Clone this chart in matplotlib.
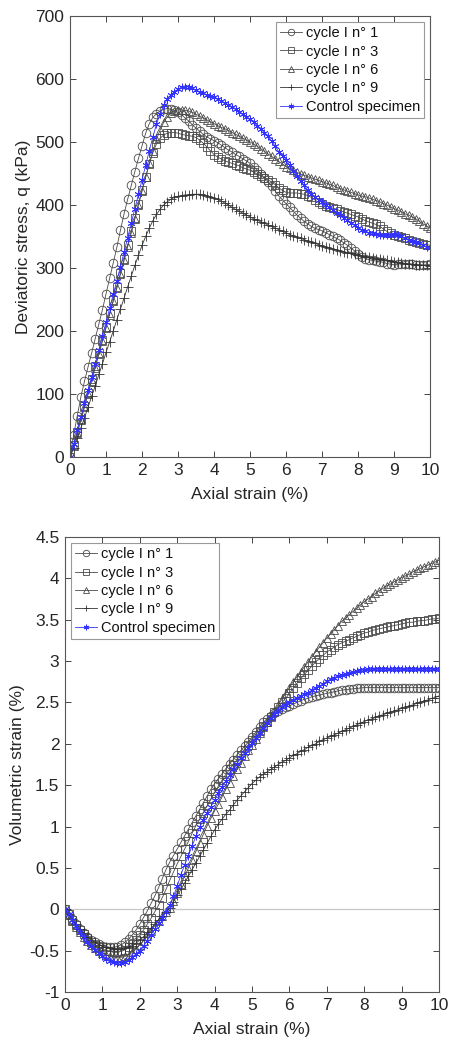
import numpy as np
import matplotlib
matplotlib.use("Agg")
import matplotlib.pyplot as plt
from matplotlib.ticker import FuncFormatter

plt.rcParams['font.family'] = ['Liberation Sans', 'DejaVu Sans']
plt.rcParams['axes.unicode_minus'] = False

# axial strain grid (%)
strain = np.linspace(0, 10, 101)
labels = ['cycle I n° 1', 'cycle I n° 3', 'cycle I n° 6', 'cycle I n° 9', 'Control specimen']

# deviatoric stress q (kPa)
q_c1 = [0, 35, 65, 95, 120, 143, 165, 188, 211, 234,
        259, 284, 308, 333, 360, 386, 409, 431, 453, 474,
        494, 514, 529, 539, 545, 549, 552, 553, 552, 550,
        547, 543, 538, 533, 527, 522, 517, 512, 508, 505,
        502, 499, 495, 491, 487, 484, 480, 477, 473, 470,
        466, 461, 455, 449, 443, 437, 430, 422, 414, 408,
        402, 396, 390, 384, 379, 374, 370, 366, 363, 361,
        359, 356, 353, 350, 347, 344, 340, 336, 332, 327,
        322, 318, 315, 313, 312, 311, 310, 309, 307, 306,
        305, 306, 307, 307, 306, 306, 305, 305, 305, 305, 306]
q_c3 = [0, 19, 39, 60, 81, 102, 123, 144, 165, 186,
        207, 228, 249, 270, 292, 314, 336, 358, 380, 402,
        424, 445, 465, 483, 497, 506, 511, 514, 515, 515,
        514, 512, 511, 510, 509, 507, 503, 498, 492, 486,
        480, 476, 473, 470, 468, 466, 464, 462, 459, 457,
        455, 452, 449, 446, 443, 440, 436, 432, 427, 423,
        420, 419, 419, 419, 418, 417, 415, 412, 408, 404,
        401, 399, 397, 395, 393, 391, 389, 387, 385, 383,
        381, 378, 375, 373, 371, 369, 366, 362, 358, 355,
        353, 351, 349, 347, 345, 343, 341, 339, 338, 337, 336]
q_c6 = [0, 18, 38, 58, 79, 100, 121, 142, 163, 184,
        205, 226, 247, 268, 290, 312, 334, 356, 378, 400,
        422, 444, 466, 486, 504, 519, 531, 540, 546, 549,
        551, 551, 550, 549, 547, 544, 541, 538, 535, 532,
        529, 526, 523, 521, 518, 515, 512, 509, 506, 503,
        500, 497, 493, 489, 485, 481, 477, 473, 469, 465,
        461, 458, 455, 452, 449, 447, 445, 443, 441, 439,
        437, 435, 433, 431, 428, 426, 424, 422, 420, 418,
        416, 414, 413, 411, 409, 407, 405, 402, 400, 397,
        394, 392, 389, 386, 384, 381, 378, 374, 370, 367, 363]
q_c9 = [0, 14, 30, 46, 62, 79, 96, 113, 131, 148,
        166, 183, 200, 218, 235, 252, 270, 287, 304, 320,
        336, 350, 363, 375, 385, 393, 400, 405, 409, 412,
        414, 415, 416, 416, 417, 417, 417, 416, 415, 413,
        411, 409, 406, 403, 400, 396, 393, 390, 387, 384,
        381, 378, 376, 373, 371, 368, 366, 363, 361, 358,
        356, 353, 351, 349, 347, 345, 343, 341, 339, 337,
        335, 333, 332, 330, 329, 327, 326, 324, 323, 322,
        320, 319, 318, 317, 316, 315, 314, 313, 312, 311,
        310, 309, 308, 307, 307, 306, 305, 305, 304, 304, 303]
q_ctrl = [0, 20, 42, 63, 85, 106, 127, 148, 170, 192,
          214, 236, 258, 280, 302, 325, 348, 371, 394, 417,
          440, 463, 486, 508, 528, 545, 558, 568, 575, 580,
          584, 587, 588, 587, 585, 582, 579, 577, 575, 573,
          571, 568, 565, 562, 559, 556, 552, 548, 544, 540,
          536, 531, 526, 521, 515, 509, 501, 493, 484, 478,
          472, 463, 454, 446, 438, 431, 424, 418, 413, 408,
          404, 400, 396, 392, 388, 384, 380, 376, 372, 368,
          364, 361, 358, 356, 355, 354, 353, 352, 352, 353,
          354, 352, 350, 347, 345, 343, 341, 339, 336, 333, 331]

# volumetric strain (%)
ev_c1 = [0, -0.06, -0.12, -0.18, -0.24, -0.29, -0.33, -0.37, -0.40, -0.42,
         -0.44, -0.45, -0.46, -0.46, -0.45, -0.43, -0.40, -0.36, -0.31, -0.25,
         -0.18, -0.10, -0.02, 0.07, 0.16, 0.26, 0.37, 0.48, 0.57, 0.65,
         0.73, 0.81, 0.89, 0.97, 1.05, 1.13, 1.21, 1.29, 1.37, 1.45,
         1.52, 1.58, 1.64, 1.70, 1.76, 1.81, 1.87, 1.92, 1.97, 2.02,
         2.08, 2.14, 2.20, 2.26, 2.30, 2.34, 2.37, 2.40, 2.42, 2.44,
         2.46, 2.48, 2.50, 2.52, 2.54, 2.55, 2.57, 2.58, 2.59, 2.60,
         2.61, 2.62, 2.63, 2.64, 2.65, 2.655, 2.66, 2.665, 2.67, 2.675,
         2.68, 2.68, 2.68, 2.68, 2.68, 2.68, 2.68, 2.68, 2.68, 2.68,
         2.68, 2.68, 2.68, 2.68, 2.68, 2.68, 2.68, 2.68, 2.68, 2.68, 2.68]
ev_c3 = [0, -0.06, -0.13, -0.19, -0.25, -0.30, -0.35, -0.39, -0.43, -0.46,
         -0.48, -0.50, -0.51, -0.52, -0.52, -0.51, -0.49, -0.46, -0.42, -0.37,
         -0.31, -0.25, -0.18, -0.11, -0.03, 0.05, 0.14, 0.24, 0.35, 0.45,
         0.55, 0.64, 0.73, 0.82, 0.92, 1.01, 1.09, 1.17, 1.25, 1.33,
         1.41, 1.49, 1.56, 1.63, 1.69, 1.75, 1.81, 1.87, 1.93, 1.99,
         2.05, 2.11, 2.16, 2.22, 2.27, 2.33, 2.39, 2.44, 2.50, 2.55,
         2.61, 2.67, 2.73, 2.79, 2.84, 2.89, 2.94, 2.99, 3.03, 3.07,
         3.11, 3.14, 3.17, 3.20, 3.22, 3.24, 3.26, 3.28, 3.30, 3.32,
         3.34, 3.35, 3.37, 3.38, 3.39, 3.40, 3.41, 3.42, 3.43, 3.44,
         3.45, 3.46, 3.47, 3.47, 3.48, 3.49, 3.49, 3.50, 3.51, 3.51, 3.52]
ev_c6 = [0, -0.07, -0.14, -0.21, -0.27, -0.33, -0.38, -0.43, -0.47, -0.50,
         -0.53, -0.55, -0.57, -0.58, -0.58, -0.58, -0.57, -0.55, -0.52, -0.48,
         -0.43, -0.38, -0.32, -0.26, -0.20, -0.14, -0.08, -0.03, 0.01, 0.10,
         0.20, 0.30, 0.40, 0.50, 0.60, 0.70, 0.80, 0.91, 1.01, 1.10,
         1.19, 1.27, 1.36, 1.45, 1.53, 1.61, 1.69, 1.77, 1.85, 1.92,
         1.99, 2.06, 2.13, 2.20, 2.27, 2.34, 2.40, 2.47, 2.54, 2.61,
         2.68, 2.75, 2.81, 2.87, 2.93, 2.99, 3.05, 3.11, 3.17, 3.22,
         3.28, 3.33, 3.38, 3.43, 3.48, 3.52, 3.56, 3.60, 3.64, 3.68,
         3.72, 3.75, 3.78, 3.82, 3.85, 3.88, 3.91, 3.93, 3.96, 3.98,
         4.01, 4.03, 4.05, 4.08, 4.10, 4.12, 4.14, 4.16, 4.18, 4.20, 4.22]
ev_c9 = [0, -0.06, -0.12, -0.18, -0.24, -0.29, -0.33, -0.37, -0.40, -0.43,
         -0.45, -0.46, -0.47, -0.48, -0.48, -0.48, -0.47, -0.46, -0.44, -0.41,
         -0.37, -0.33, -0.28, -0.23, -0.18, -0.13, -0.08, -0.03, 0.01, 0.09,
         0.17, 0.24, 0.32, 0.40, 0.48, 0.56, 0.64, 0.72, 0.80, 0.88,
         0.96, 1.03, 1.09, 1.15, 1.20, 1.26, 1.32, 1.37, 1.42, 1.47,
         1.52, 1.56, 1.60, 1.63, 1.66, 1.69, 1.72, 1.75, 1.78, 1.80,
         1.83, 1.86, 1.88, 1.91, 1.93, 1.96, 1.98, 2.00, 2.03, 2.05,
         2.07, 2.09, 2.11, 2.13, 2.15, 2.17, 2.19, 2.21, 2.23, 2.25,
         2.27, 2.29, 2.30, 2.32, 2.34, 2.35, 2.37, 2.38, 2.40, 2.41,
         2.43, 2.44, 2.46, 2.47, 2.49, 2.50, 2.52, 2.53, 2.55, 2.56, 2.58]
ev_ctrl = [0, -0.06, -0.13, -0.20, -0.27, -0.33, -0.39, -0.44, -0.49, -0.53,
           -0.57, -0.60, -0.62, -0.64, -0.65, -0.65, -0.64, -0.61, -0.58, -0.54,
           -0.50, -0.44, -0.38, -0.31, -0.24, -0.17, -0.10, -0.03, 0.05, 0.16,
           0.28, 0.42, 0.54, 0.65, 0.77, 0.88, 0.99, 1.08, 1.16, 1.24,
           1.32, 1.40, 1.48, 1.55, 1.62, 1.69, 1.76, 1.83, 1.89, 1.95,
           2.01, 2.07, 2.13, 2.19, 2.25, 2.31, 2.36, 2.40, 2.44, 2.47,
           2.50, 2.53, 2.56, 2.58, 2.60, 2.62, 2.65, 2.68, 2.70, 2.72,
           2.76, 2.78, 2.80, 2.82, 2.83, 2.85, 2.86, 2.87, 2.88, 2.89,
           2.89, 2.90, 2.90, 2.90, 2.90, 2.90, 2.90, 2.90, 2.90, 2.90,
           2.90, 2.90, 2.90, 2.90, 2.90, 2.90, 2.90, 2.90, 2.90, 2.90, 2.90]

q_all = [q_c1, q_c3, q_c6, q_c9, q_ctrl]
ev_all = [ev_c1, ev_c3, ev_c6, ev_c9, ev_ctrl]

gray = '#4a4a4a'
blue = '#3333ff'
asterisk = (6, 2, 0)
styles = [('o', 6.2, gray), ('s', 5.2, gray), ('^', 6.2, gray),
          ('+', 6.5, '#333333'), (asterisk, 5.5, blue)]
txt = '#262626'

fig = plt.figure(figsize=(4.49, 10.44), dpi=100)
ax1 = fig.add_axes([0.156, 0.5623, 0.802, 0.4224])
ax2 = fig.add_axes([0.1448, 0.0498, 0.833, 0.4358])

ax2.axhline(0, color='#c8c8c8', lw=0.9, zorder=0)

for ax, data in ((ax1, q_all), (ax2, ev_all)):
    for y, lab, (m, ms, c) in zip(data, labels, styles):
        ax.plot(strain, y, marker=m, ms=ms, mfc='none', mec=c, mew=0.6,
                color=c, lw=0.6, label=lab)

ax1.set_xlim(0, 10)
ax1.set_ylim(0, 700)
ax1.set_yticks(np.arange(0, 701, 100))
ax2.set_xlim(0, 10)
ax2.set_ylim(-1, 4.5)
ax2.set_yticks(np.arange(-1, 4.51, 0.5))

fmt = FuncFormatter(lambda v, p: '%g' % v)
for ax in (ax1, ax2):
    ax.set_xticks(np.arange(0, 11, 1))
    ax.yaxis.set_major_formatter(fmt)
    ax.tick_params(direction='in', top=True, right=True, length=4, width=0.6,
                   labelsize=12.5, colors=txt, labelcolor=txt, pad=4)
    for s in ax.spines.values():
        s.set_color('#555555')
        s.set_linewidth(0.8)
    ax.set_xlabel('Axial strain (%)', fontsize=12.5, color=txt, labelpad=7)

ax1.set_ylabel('Deviatoric stress, q (kPa)', fontsize=12.5, color=txt, labelpad=3)
ax2.set_ylabel('Volumetric strain (%)', fontsize=12.5, color=txt, labelpad=3)

leg_kw = dict(fontsize=10.5, fancybox=False, framealpha=1, edgecolor='#999999',
              handlelength=1.5, handletextpad=0.25, labelspacing=0.3,
              borderpad=0.3, borderaxespad=0.4, markerscale=0.75)
l1 = ax1.legend(loc='upper right', **leg_kw)
l2 = ax2.legend(loc='upper left', **leg_kw)
for lg in (l1, l2):
    lg.get_frame().set_linewidth(0.8)
    for t in lg.get_texts():
        t.set_color('#111111')

fig.savefig('out.png', dpi=100)
